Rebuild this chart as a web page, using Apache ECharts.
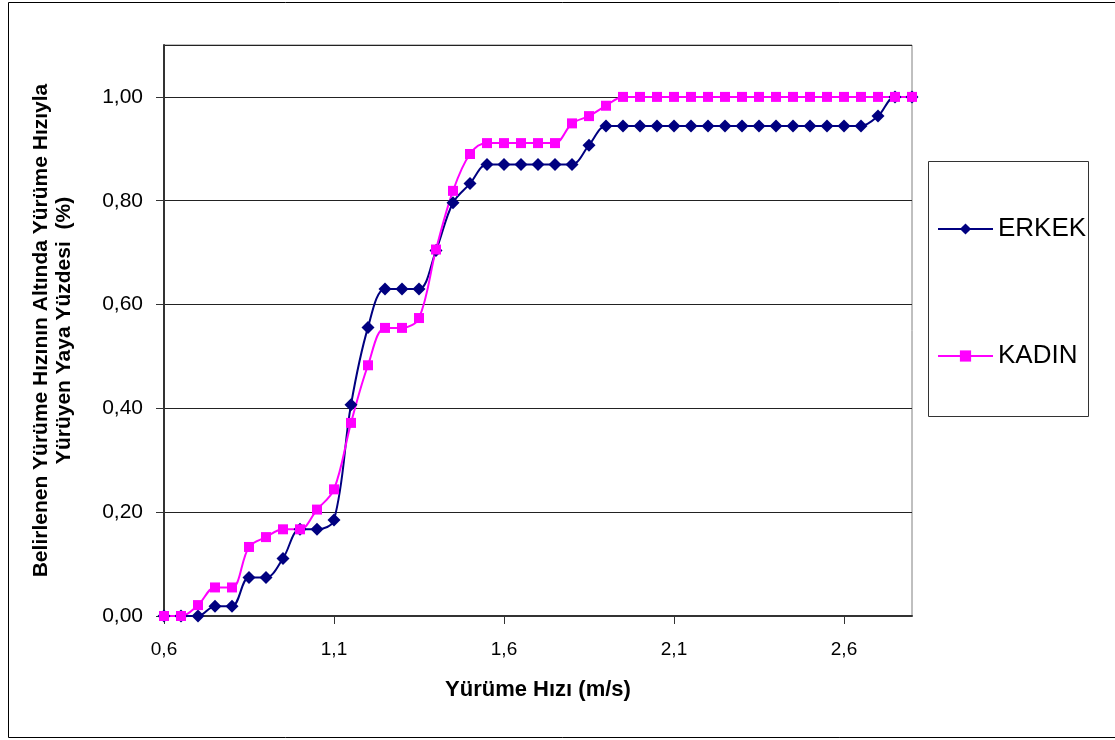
<!DOCTYPE html>
<html>
<head>
<meta charset="utf-8">
<script src="https://cdn.jsdelivr.net/npm/echarts@6/dist/echarts.min.js"></script>
<style>html,body{margin:0;padding:0;background:#fff;}#c{width:1115px;height:740px;}</style>
</head>
<body>
<div id="c"></div>
<script>
// Walking speed (m/s)
const speeds = [0.6,0.65,0.7,0.75,0.8,0.85,0.9,0.95,1.0,1.05,1.1,1.15,1.2,1.25,1.3,1.35,1.4,1.45,1.5,1.55,1.6,1.65,1.7,1.75,1.8,1.85,1.9,1.95,2.0,2.05,2.1,2.15,2.2,2.25,2.3,2.35,2.4,2.45,2.5,2.55,2.6,2.65,2.7,2.75,2.8];
const erkek = [0,0,0,0.019,0.019,0.074,0.074,0.111,0.167,0.167,0.185,0.407,0.556,0.630,0.630,0.630,0.704,0.796,0.833,0.870,0.870,0.870,0.870,0.870,0.870,0.907,0.944,0.944,0.944,0.944,0.944,0.944,0.944,0.944,0.944,0.944,0.944,0.944,0.944,0.944,0.944,0.944,0.963,1.0,1.0];
const kadin = [0,0,0.021,0.055,0.055,0.133,0.152,0.167,0.167,0.205,0.244,0.372,0.483,0.555,0.555,0.574,0.706,0.819,0.890,0.911,0.911,0.911,0.911,0.911,0.949,0.963,0.983,1.0,1.0,1.0,1.0,1.0,1.0,1.0,1.0,1.0,1.0,1.0,1.0,1.0,1.0,1.0,1.0,1.0,1.0];
const seriesNames = ['ERKEK','KADIN'];
const xTitle = 'Yürüme Hızı (m/s)';
const yTitle = 'Belirlenen Yürüme Hızının Altında Yürüme Hızıyla\nYürüyen Yaya Yüzdesi  (%)';

const pairs = arr => speeds.map((s,i)=>[s, arr[i]]);
const font = 'Arial, "Liberation Sans", sans-serif';

const chart = echarts.init(document.getElementById('c'), null, {renderer:'canvas'});
chart.setOption({
  animation:false,
  backgroundColor:'#fff',
  textStyle:{fontFamily:font},
  grid:{left:164, top:45, right:203, bottom:124, show:true, borderColor:'#808080', borderWidth:1, backgroundColor:'transparent'},
  graphic:[
    {type:'rect', shape:{x:8.5, y:2.5, width:1120, height:735}, style:{fill:'none', stroke:'#000', lineWidth:1}, silent:true, z:-1},
    {type:'rect', shape:{x:928.5, y:161.5, width:160, height:255}, style:{fill:'#fff', stroke:'#333', lineWidth:1}, silent:true, z:-1}
  ],
  legend:{
    orient:'vertical', left:932, top:211, itemGap:101,
    itemWidth:55, itemHeight:14,
    textStyle:{fontSize:26, color:'#000', fontFamily:font},
    data:seriesNames
  },
  xAxis:{
    type:'value', min:0.6, max:2.8, interval:0.5,
    name:xTitle, nameLocation:'middle', nameGap:63,
    nameTextStyle:{fontSize:22, fontWeight:'bold', color:'#000', fontFamily:font},
    axisLine:{show:true, lineStyle:{color:'#333', width:2}},
    axisTick:{show:true, length:8, lineStyle:{color:'#333'}},
    axisLabel:{margin:24, fontSize:19, color:'#000', showMaxLabel:false,
      formatter:v=>v.toFixed(1).replace('.',',')},
    splitLine:{show:false}
  },
  yAxis:{
    type:'value', min:0, max:1.1, interval:0.2,
    name:yTitle, nameLocation:'middle', nameGap:88, nameRotate:90,
    nameTextStyle:{fontSize:21, fontWeight:'bold', color:'#000', lineHeight:23, fontFamily:font},
    axisLine:{show:true, lineStyle:{color:'#333', width:2}},
    axisTick:{show:true, length:8, lineStyle:{color:'#333'}},
    axisLabel:{margin:21, fontSize:21, color:'#000', showMaxLabel:false,
      formatter:v=>v.toFixed(2).replace('.',',')},
    splitLine:{show:true, lineStyle:{color:'#222', width:1}}
  },
  series:[
    {name:seriesNames[0], type:'line', data:pairs(erkek), smooth:0.35,
      symbol:'diamond', symbolSize:13,
      lineStyle:{color:'#000080', width:2},
      itemStyle:{color:'#000080'}},
    {name:seriesNames[1], type:'line', data:pairs(kadin), smooth:0.35,
      symbol:'rect', symbolSize:10,
      lineStyle:{color:'#FF00FF', width:2},
      itemStyle:{color:'#FF00FF'}}
  ]
});
</script>
</body>
</html>
